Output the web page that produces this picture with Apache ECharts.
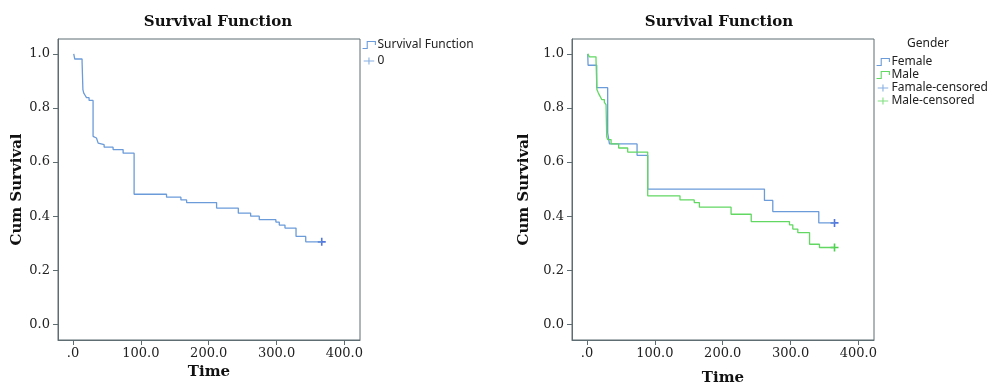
<!DOCTYPE html>
<html><head><meta charset="utf-8">
<script src="https://cdn.jsdelivr.net/npm/echarts@6/dist/echarts.min.js"></script>
<style>html,body{margin:0;padding:0;background:#fff}#c{width:1000px;height:391px}</style>
</head><body><div id="c"></div>
<script>
// ---- data ----
const allTimes = [1, 2.5, 13.3, 14.5, 15.8, 17.7, 19.8, 23.6, 29.5, 32, 34.5, 37, 39.4, 45.8, 59, 73.8, 90, 137.8, 159, 167.4, 211.6, 243.6, 261.8, 274.5, 299, 304, 312.4, 328.7, 343, 366.6];
const allSurv  = [1.0, 0.981, 0.970, 0.868, 0.855, 0.847, 0.838, 0.828, 0.695, 0.689, 0.683, 0.670, 0.664, 0.655, 0.646, 0.633, 0.481, 0.470, 0.460, 0.450, 0.430, 0.411, 0.400, 0.387, 0.378, 0.367, 0.356, 0.325, 0.305, 0.305];
const allCensorTime = [366.6];
const allCensorSurv = [0.305];

const femaleTimes = [1, 1.5, 14.2, 30.4, 33, 73.7, 89.4, 261.5, 273.8, 341.6, 364.8];
const femaleSurv  = [1.0, 0.958, 0.875, 0.708, 0.667, 0.625, 0.500, 0.458, 0.417, 0.375, 0.375];
const femaleCensorTime = [364.8];
const femaleCensorSurv = [0.375];

const maleTimes = [1, 3.4, 13.2, 14.5, 16.7, 19.2, 21.6, 25.5, 28, 29, 30.4, 35.4, 46.6, 59.9, 89.4, 137, 158, 165.6, 212.3, 242, 298.4, 303.3, 310.7, 328, 342.6, 364.8];
const maleSurv  = [1.0, 0.989, 0.977, 0.868, 0.855, 0.843, 0.831, 0.821, 0.812, 0.693, 0.683, 0.667, 0.652, 0.637, 0.475, 0.460, 0.450, 0.433, 0.407, 0.380, 0.368, 0.352, 0.339, 0.296, 0.284, 0.284];
const maleCensorTime = [364.8];
const maleCensorSurv = [0.284];

const xTickValues = [0, 100, 200, 300, 400];
const xTickLabels = ['.0', '100.0', '200.0', '300.0', '400.0'];
const yTickValues = [0, 0.2, 0.4, 0.6, 0.8, 1.0];
const yTickLabels = ['0.0', '0.2', '0.4', '0.6', '0.8', '1.0'];

const titleText = 'Survival Function';
const leftLegendNames = ['Survival Function', '0'];
const rightLegendTitle = 'Gender';
const rightLegendNames = ['Female', 'Male', 'Famale-censored', 'Male-censored'];

// ---- styles ----
const BLUE = '#6b9bd9', GREEN = '#62d862', BLUE_C = '#2453d6', GREEN_C = '#22c422';
const AXIS = '#5e6d72';
const SERIF = '"DejaVu Serif", serif';
const SANS = '"Noto Sans", sans-serif';
const STEP_ICON = 'path://M0,7 L4,7 L4,1 L11,1 L11,4';
const CROSS_ICON = 'path://M0,4 L12,4 M6,0 L6,8';
const CROSS_SYM = 'path://M0,5 L10,5 M5,0 L5,10';

const zip = (a, b) => a.map((v, i) => [v, b[i]]);
const lbl = (vals, labels) => v => { const i = vals.findIndex(t => Math.abs(t - v) < 1e-9); return i >= 0 ? labels[i] : ''; };

function xAxis(gi, gap) {
  return {
    type: 'value', gridIndex: gi, min: -22.2, max: 423,
    name: 'Time', nameLocation: 'middle', nameGap: gap,
    nameTextStyle: { fontFamily: SERIF, fontWeight: 'bold', fontSize: 15, color: '#111' },
    axisLine: { show: true, onZero: false, lineStyle: { color: AXIS, width: 1 } },
    axisTick: { show: true, length: 5, customValues: xTickValues, lineStyle: { color: AXIS } },
    axisLabel: { customValues: xTickValues, formatter: lbl(xTickValues, xTickLabels), fontFamily: SERIF, fontSize: 13, color: '#222', margin: 7 },
    splitLine: { show: false }
  };
}
function yAxis(gi, gap) {
  return {
    type: 'value', gridIndex: gi, min: -0.058, max: 1.055,
    name: 'Cum Survival', nameLocation: 'middle', nameGap: gap,
    nameTextStyle: { fontFamily: SERIF, fontWeight: 'bold', fontSize: 15, color: '#111' },
    axisLine: { show: true, onZero: false, lineStyle: { color: AXIS, width: 1 } },
    axisTick: { show: true, length: 5, customValues: yTickValues, lineStyle: { color: AXIS } },
    axisLabel: { customValues: yTickValues, formatter: lbl(yTickValues, yTickLabels), fontFamily: SERIF, fontSize: 13, color: '#222', margin: 8 },
    splitLine: { show: false }
  };
}
function stepLine(name, gi, t, s, color) {
  return { name, type: 'line', xAxisIndex: gi, yAxisIndex: gi, step: 'end', data: zip(t, s),
    showSymbol: false, symbol: 'none', lineStyle: { color, width: 1.3 }, itemStyle: { color }, animation: false };
}
function censor(name, gi, t, s, color) {
  return { name, type: 'scatter', xAxisIndex: gi, yAxisIndex: gi, data: zip(t, s), symbol: CROSS_SYM, symbolSize: 8,
    itemStyle: { color: 'transparent', borderColor: color, borderWidth: 1.6 }, animation: false };
}
function legendItem(name, icon, color) {
  return { name, icon, itemStyle: { color: 'transparent', borderColor: color, borderWidth: 1.1 } };
}
const legendText = { fontFamily: SANS, fontSize: 12, color: '#222', lineHeight: 12, padding: [0, 0, 0, -3] };

const chart = echarts.init(document.getElementById('c'), null, { renderer: 'canvas' });
chart.setOption({
  backgroundColor: '#fff',
  animation: false,
  title: [
    { text: titleText, left: 218, top: 15, textAlign: 'center', padding: 0, textStyle: { fontFamily: SERIF, fontWeight: 'bold', fontSize: 15, color: '#111' } },
    { text: titleText, left: 719, top: 15, textAlign: 'center', padding: 0, textStyle: { fontFamily: SERIF, fontWeight: 'bold', fontSize: 15, color: '#111' } },
    { text: rightLegendTitle, left: 928, top: 38, textAlign: 'center', padding: 0, textStyle: { fontFamily: SANS, fontWeight: 'normal', fontSize: 12, color: '#222' } }
  ],
  grid: [
    { left: 58, right: 640, top: 39, bottom: 51, show: true, borderColor: AXIS, borderWidth: 1, backgroundColor: '#fff' },
    { left: 572, right: 126, top: 39, bottom: 51, show: true, borderColor: AXIS, borderWidth: 1, backgroundColor: '#fff' }
  ],
  xAxis: [xAxis(0, 24), xAxis(1, 31)],
  yAxis: [yAxis(0, 33), yAxis(1, 40)],
  legend: [
    { orient: 'vertical', left: 362, top: 39, itemWidth: 13, itemHeight: 7, itemGap: 4, padding: 0, textStyle: legendText,
      data: [legendItem(leftLegendNames[0], STEP_ICON, BLUE), legendItem(leftLegendNames[1], CROSS_ICON, BLUE)] },
    { orient: 'vertical', left: 876, top: 56, itemWidth: 13, itemHeight: 7, itemGap: 1, padding: 0, textStyle: legendText,
      data: [
        legendItem(rightLegendNames[0], STEP_ICON, BLUE),
        legendItem(rightLegendNames[1], STEP_ICON, GREEN),
        legendItem(rightLegendNames[2], CROSS_ICON, BLUE),
        legendItem(rightLegendNames[3], CROSS_ICON, GREEN)
      ] }
  ],
  series: [
    stepLine(leftLegendNames[0], 0, allTimes, allSurv, BLUE),
    censor(leftLegendNames[1], 0, allCensorTime, allCensorSurv, BLUE_C),
    stepLine(rightLegendNames[0], 1, femaleTimes, femaleSurv, BLUE),
    stepLine(rightLegendNames[1], 1, maleTimes, maleSurv, GREEN),
    censor(rightLegendNames[2], 1, femaleCensorTime, femaleCensorSurv, BLUE_C),
    censor(rightLegendNames[3], 1, maleCensorTime, maleCensorSurv, GREEN_C)
  ]
});
</script>
</body></html>
